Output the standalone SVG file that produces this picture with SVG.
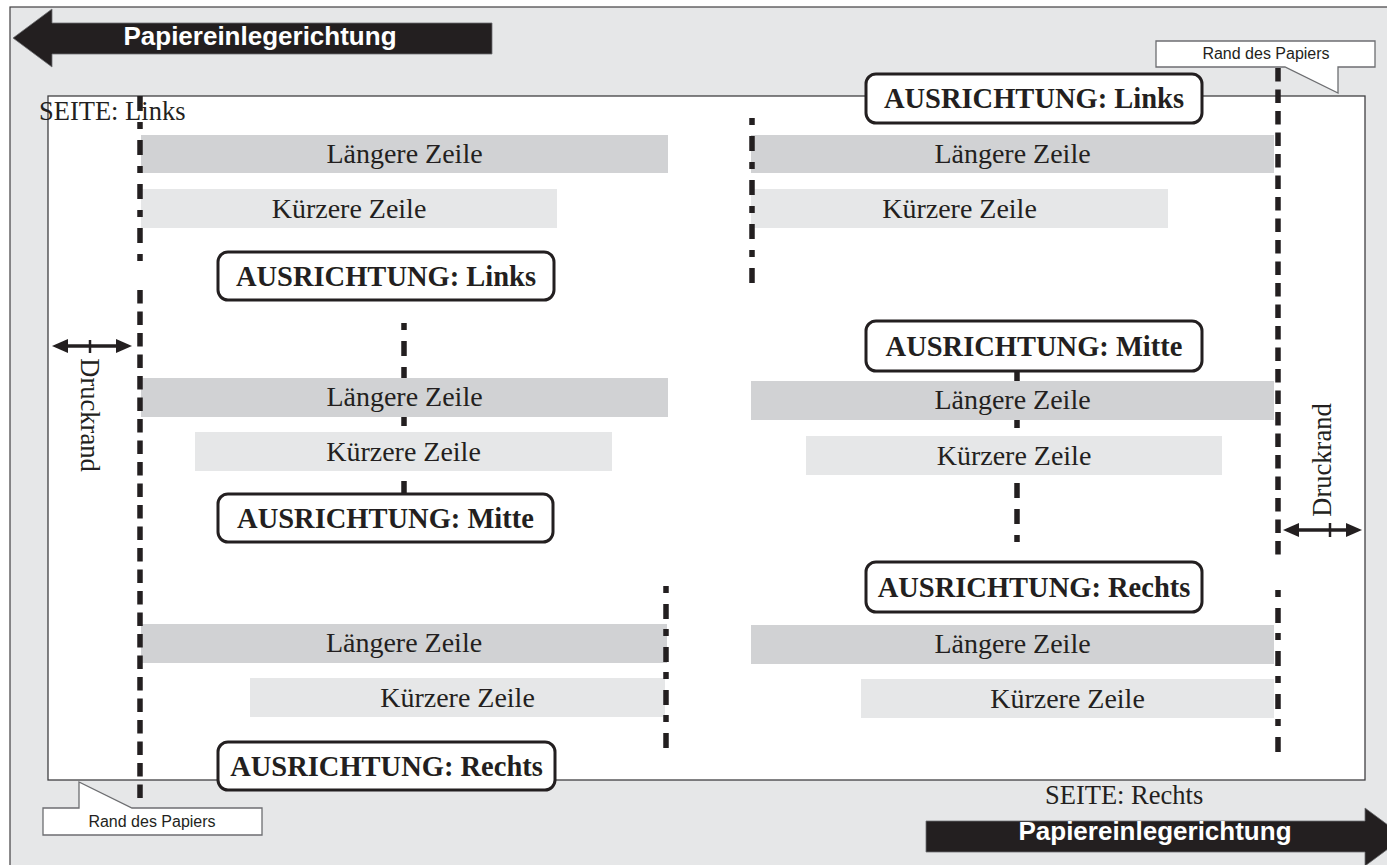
<svg xmlns="http://www.w3.org/2000/svg" width="1387" height="865" viewBox="0 0 1387 865">
<style>
.bg{fill:#e6e7e8;stroke:#414042;stroke-width:1.2}
.paper{fill:#ffffff;stroke:#414042;stroke-width:1.3}
.long{fill:#d1d2d4}
.short{fill:#e6e7e8}
.row{font-family:"Liberation Serif","Times New Roman",serif;font-size:28px;fill:#231f20;text-anchor:middle}
.box{fill:#ffffff;stroke:#231f20;stroke-width:3}
.boxt{font-family:"Liberation Serif","Times New Roman",serif;font-size:28.5px;font-weight:bold;fill:#231f20;text-anchor:middle}
.lbl{font-family:"Liberation Serif","Times New Roman",serif;font-size:26.5px;fill:#231f20}
.big{fill:#231f20;stroke:#6d6e71;stroke-width:0.8}
.bigt{font-family:"Liberation Sans",Arial,sans-serif;font-size:26px;font-weight:bold;fill:#ffffff;text-anchor:middle}
.call{fill:#ffffff;stroke:#6d6e71;stroke-width:1.3}
.callt{font-family:"Liberation Sans",Arial,sans-serif;font-size:16px;fill:#231f20;text-anchor:middle}
.edge{stroke:#231f20;stroke-width:5.5;fill:none;stroke-dasharray:13.5 8}
.dd{stroke:#231f20;stroke-width:5.5;fill:none}
.dim{stroke:#231f20;stroke-width:3.5;fill:none}
.tick{stroke:#231f20;stroke-width:2.5}
</style>
<defs>
<marker id="ah" viewBox="0 0 16 14" refX="8" refY="7" markerWidth="16" markerHeight="14" markerUnits="userSpaceOnUse" orient="auto-start-reverse">
<path d="M0,0 L16,7 L0,14 Z" fill="#231f20"/>
</marker>
</defs>

<rect class="bg" x="10" y="7" width="1390" height="870"/>

<g id="feed-arrow-top">
<polygon class="big" points="13,38 52,9 52,23 492,23 492,54 52,54 52,67"/>
<text class="bigt" x="260" y="45">Papiereinlegerichtung</text>
</g>

<g id="paper">
<rect class="paper" x="48" y="96" width="1317" height="684"/>
</g>

<g id="center-lines">
<line class="dd" x1="404" y1="323" x2="404" y2="493" stroke-dasharray="7 11 15 11 15 11"/>
<line class="dd" x1="1017" y1="369" x2="1017" y2="543" stroke-dasharray="15 11 7 11 15 11"/>
</g>

<g id="left-col-rows">
<rect class="long" x="141" y="135" width="527" height="38"/>
<text class="row" x="404.5" y="163">Längere Zeile</text>
<rect class="short" x="141" y="189" width="416" height="39"/>
<text class="row" x="349" y="218">Kürzere Zeile</text>
<rect class="long" x="141" y="378" width="527" height="39"/>
<text class="row" x="404.5" y="406">Längere Zeile</text>
<rect class="short" x="195" y="432" width="417" height="39"/>
<text class="row" x="403.5" y="461">Kürzere Zeile</text>
<rect class="long" x="141" y="624" width="526" height="39"/>
<text class="row" x="404" y="652">Längere Zeile</text>
<rect class="short" x="250" y="678" width="415" height="39"/>
<text class="row" x="457.5" y="707">Kürzere Zeile</text>
</g>

<g id="right-col-rows">
<rect class="long" x="751" y="135" width="523" height="38"/>
<text class="row" x="1012.5" y="163">Längere Zeile</text>
<rect class="short" x="751" y="189" width="417" height="39"/>
<text class="row" x="959.5" y="218">Kürzere Zeile</text>
<rect class="long" x="751" y="381" width="523" height="39"/>
<text class="row" x="1012.5" y="409">Längere Zeile</text>
<rect class="short" x="806" y="436" width="416" height="39"/>
<text class="row" x="1014" y="465">Kürzere Zeile</text>
<rect class="long" x="751" y="625" width="523" height="39"/>
<text class="row" x="1012.5" y="653">Längere Zeile</text>
<rect class="short" x="861" y="679" width="413" height="39"/>
<text class="row" x="1067.5" y="708">Kürzere Zeile</text>
</g>

<g id="guide-lines">
<line class="dd" x1="140" y1="96" x2="140" y2="261" stroke-dasharray="15 11 7 11"/>
<line class="edge" x1="140" y1="290" x2="140" y2="803"/>
<line class="dd" x1="666" y1="586" x2="666" y2="749" stroke-dasharray="7 11 15 10"/>
<line class="dd" x1="752" y1="118" x2="752" y2="283" stroke-dasharray="7 11 15 11"/>
<line class="edge" x1="1278" y1="68" x2="1278" y2="560"/>
<line class="dd" x1="1278" y1="590" x2="1278" y2="752" stroke-dasharray="7 11 15 10"/>
</g>

<g id="box-left-links">
<rect class="box" x="218" y="252" width="336" height="48" rx="10"/>
<text class="boxt" x="386" y="286">AUSRICHTUNG: Links</text>
</g>
<g id="box-left-mitte">
<rect class="box" x="218" y="494" width="335" height="48" rx="10"/>
<text class="boxt" x="385.5" y="528">AUSRICHTUNG: Mitte</text>
</g>
<g id="box-left-rechts">
<rect class="box" x="218" y="742" width="337" height="48" rx="10"/>
<text class="boxt" x="386.5" y="776">AUSRICHTUNG: Rechts</text>
</g>
<g id="box-right-links">
<rect class="box" x="866" y="74" width="336" height="49" rx="10"/>
<text class="boxt" x="1034" y="108">AUSRICHTUNG: Links</text>
</g>
<g id="box-right-mitte">
<rect class="box" x="866" y="321" width="336" height="50" rx="10"/>
<text class="boxt" x="1034" y="356">AUSRICHTUNG: Mitte</text>
</g>
<g id="box-right-rechts">
<rect class="box" x="866" y="562" width="336" height="50" rx="10"/>
<text class="boxt" x="1034" y="597">AUSRICHTUNG: Rechts</text>
</g>

<g id="side-labels">
<text class="lbl" x="39" y="120">SEITE: Links</text>
<text class="lbl" x="1045" y="804">SEITE: Rechts</text>
</g>

<g id="druckrand-left">
<line class="dim" x1="60" y1="346" x2="124" y2="346" marker-start="url(#ah)" marker-end="url(#ah)"/>
<line class="tick" x1="90" y1="340" x2="90" y2="353"/>
<text class="lbl" transform="translate(81,415) rotate(90)" text-anchor="middle">Druckrand</text>
</g>
<g id="druckrand-right">
<line class="dim" x1="1291" y1="530" x2="1354" y2="530" marker-start="url(#ah)" marker-end="url(#ah)"/>
<line class="tick" x1="1330" y1="523" x2="1330" y2="537"/>
<text class="lbl" transform="translate(1331,460) rotate(-90)" text-anchor="middle">Druckrand</text>
</g>

<g id="callout-top">
<path class="call" d="M1156,41 H1375 V67 H1338 V93 L1285,67 H1156 Z"/>
<text class="callt" x="1266" y="59">Rand des Papiers</text>
</g>
<g id="callout-bottom">
<path class="call" d="M43,808 H79 V782 L132,808 H262 V835 H43 Z"/>
<text class="callt" x="152" y="827">Rand des Papiers</text>
</g>

<g id="feed-arrow-bottom">
<polygon class="big" points="926,821 1365,821 1365,808 1404,837 1365,866 1365,852 926,852"/>
<text class="bigt" x="1155" y="840">Papiereinlegerichtung</text>
</g>
</svg>
